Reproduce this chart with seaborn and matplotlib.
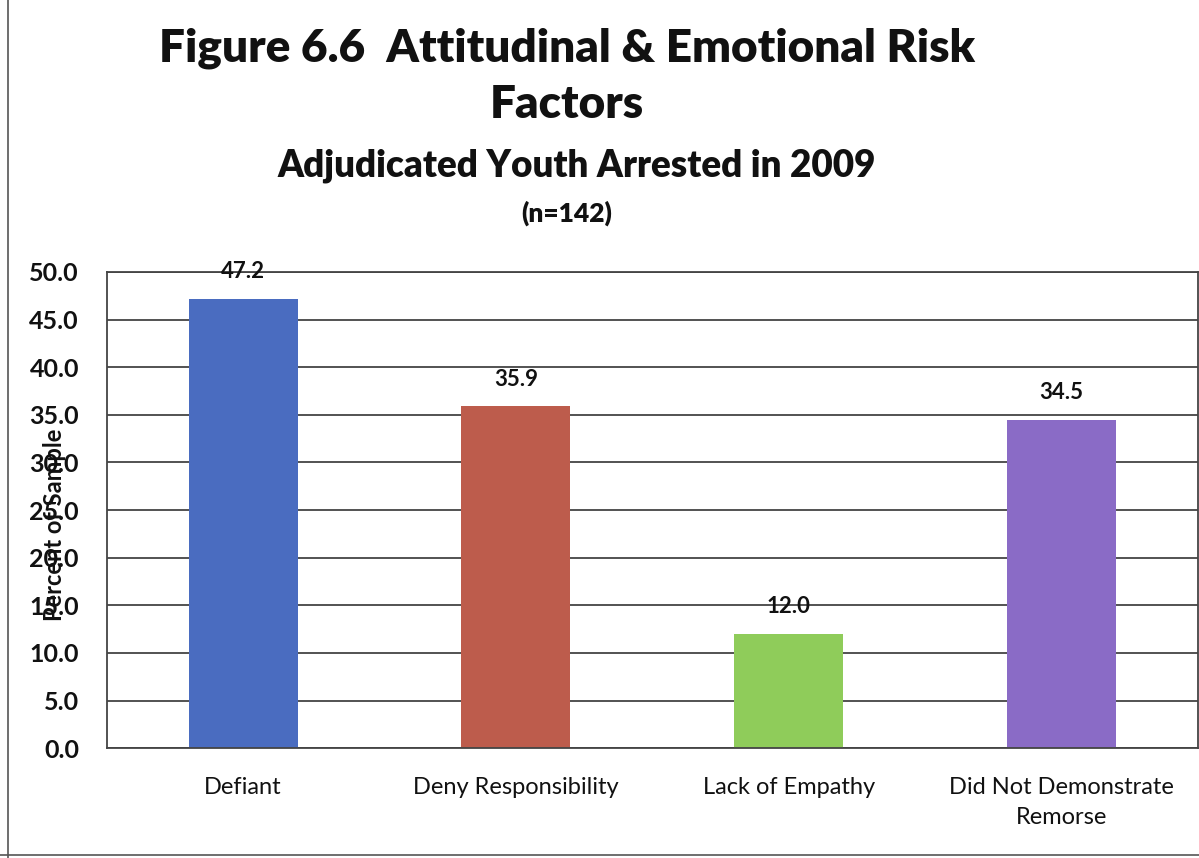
import matplotlib
matplotlib.use("Agg")
import matplotlib.pyplot as plt
import seaborn as sns
import pandas as pd
from matplotlib.lines import Line2D

categories = ["Defiant", "Deny Responsibility", "Lack of Empathy",
              "Did Not Demonstrate\nRemorse"]
percent = [47.2, 35.9, 12.0, 34.5]
bar_colors = ["#4a6cc0", "#bd5c4c", "#8fcc5a", "#8a6bc6"]
y_ticks = [0, 5, 10, 15, 20, 25, 30, 35, 40, 45, 50]

sns.set_theme(style="white")
plt.rcParams["font.family"] = ["Lato", "DejaVu Sans"]

df = pd.DataFrame({"category": categories, "percent": percent})

fig = plt.figure(figsize=(11.99, 8.58), dpi=100)
ax = fig.add_axes([0.089, 0.128, 0.91, 0.555])

sns.barplot(data=df, x="category", y="percent", hue="category",
            palette=bar_colors, width=0.4, legend=False, ax=ax,
            saturation=1, edgecolor="none")

for c in ax.containers:
    ax.bar_label(c, fmt="%.1f", padding=12, fontsize=16,
                 fontweight="bold", color="#111111")

ax.set_ylim(0, 50)
ax.set_xlim(-0.5, 3.5)
ax.set_yticks(y_ticks)
ax.set_yticklabels([f"{v:.1f}" for v in y_ticks], fontsize=18,
                   fontweight="bold", color="#111111")
ax.tick_params(axis="y", length=0, pad=20)
ax.tick_params(axis="x", length=0, pad=21, labelsize=17, labelcolor="#111111")
for lbl in ax.get_xticklabels():
    lbl.set_linespacing(1.5)
ax.grid(axis="y", color="#444444", linewidth=1.3)
ax.set_axisbelow(True)
for s in ax.spines.values():
    s.set_color("#444444")
    s.set_linewidth(1.3)
ax.set_xlabel("")
ax.set_ylabel("Percent of Sample", fontsize=17, fontweight="bold",
              color="#111111")
ax.yaxis.set_label_coords(-0.037, 0.47)

fig.text(0.473, 0.944, "Figure 6.6  Attitudinal & Emotional Risk",
         ha="center", va="center", fontsize=33, fontweight="heavy",
         color="#111111")
fig.text(0.473, 0.878, "Factors", ha="center", va="center", fontsize=33,
         fontweight="heavy", color="#111111")
fig.text(0.481, 0.807, "Adjudicated Youth Arrested in 2009", ha="center",
         va="center", fontsize=26.5, fontweight="heavy", color="#111111")
fig.text(0.473, 0.751, "(n=142)", ha="center", va="center", fontsize=19,
         fontweight="heavy", color="#111111")

# page border lines
fig.add_artist(Line2D([0.007, 0.007], [0.0, 1.0], color="#555555",
                      linewidth=1.2, transform=fig.transFigure))
fig.add_artist(Line2D([0.0, 1.0], [0.004, 0.004], color="#555555",
                      linewidth=1.2, transform=fig.transFigure))

fig.savefig("out.png", dpi=100, facecolor="white")
